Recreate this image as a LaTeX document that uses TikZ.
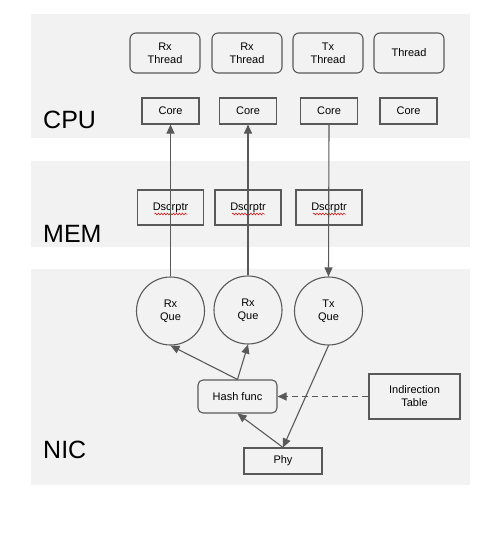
\documentclass[tikz,border=0pt]{standalone}
\usepackage{fontspec}
\setmainfont{Liberation Sans}
\usetikzlibrary{arrows.meta,decorations.pathmorphing}
\definecolor{band}{HTML}{F2F2F2}
\definecolor{ln}{HTML}{595959}
\tikzset{
  x=1pt,y=-1pt,
  bandbox/.style={fill=band,draw=none},
  biglabel/.style={font=\fontsize{25}{28}\selectfont,anchor=west,inner sep=0},
  threadbox/.style={draw=ln,line width=1.1pt,rounded corners=6pt,minimum width=70pt,minimum height=40pt,align=center,font=\fontsize{11}{13}\selectfont,inner sep=0},
  corebox/.style={draw=ln,line width=1.1pt,minimum width=57pt,minimum height=26pt,font=\fontsize{11}{13}\selectfont,inner sep=0},
  descbox/.style={draw=ln,line width=1.1pt,minimum width=66pt,minimum height=35pt,font=\fontsize{11}{13}\selectfont,inner sep=0},
  quebox/.style={draw=ln,line width=1.1pt,circle,minimum size=68pt,align=center,font=\fontsize{11}{13}\selectfont,inner sep=0},
  hashbox/.style={draw=ln,line width=1.1pt,rounded corners=5pt,minimum width=79pt,minimum height=33pt,font=\fontsize{11}{13}\selectfont,inner sep=0},
  tablebox/.style={draw=ln,line width=1.1pt,minimum width=91pt,minimum height=45pt,align=center,font=\fontsize{11}{13}\selectfont,inner sep=0},
  phybox/.style={draw=ln,line width=1.1pt,minimum width=78pt,minimum height=26pt,font=\fontsize{11}{13}\selectfont,inner sep=0},
  conn/.style={draw=ln,line width=1.1pt,-{Triangle[length=9pt,width=8pt]}},
  spell/.style={draw=red!80!black,line width=0.5pt,decorate,decoration={snake,amplitude=0.9pt,segment length=3pt}}
}
\begin{document}
\begin{tikzpicture}
\useasboundingbox (0,0) rectangle (501,535);
\fill[white] (0,0) rectangle (501,535);
% bands
\path[bandbox] (31,14) rectangle (470,138);
\path[bandbox] (31,161) rectangle (470,247);
\path[bandbox] (31,269) rectangle (470,485);
\node[biglabel] (cpu) at (43,120) {CPU};
\node[biglabel] (mem) at (43,234) {MEM};
\node[biglabel] (nic) at (43,450) {NIC};
% threads
\node[threadbox] (t1) at (165,53) {Rx\\Thread};
\node[threadbox] (t2) at (247,53) {Rx\\Thread};
\node[threadbox] (t3) at (328,53) {Tx\\Thread};
\node[threadbox] (t4) at (409,53) {Thread};
% cores
\node[corebox] (c1) at (170.5,111) {Core};
\node[corebox] (c2) at (248,111) {Core};
\node[corebox] (c3) at (329,111) {Core};
\node[corebox] (c4) at (408.5,111) {Core};
% descriptors
\node[descbox] (d1) at (170.5,207.5) {Dscrptr};
\node[descbox] (d2) at (248,207.5) {Dscrptr};
\node[descbox] (d3) at (329,207.5) {Dscrptr};
\foreach \n in {d1,d2,d3}{
  \draw[spell] ([xshift=-16pt,yshift=-6.5pt]\n.center) -- ([xshift=17pt,yshift=-6.5pt]\n.center);
}
% queues
\node[quebox] (q1) at (170.5,311) {Rx\\Que};
\node[quebox] (q2) at (248,310) {Rx\\Que};
\node[quebox] (q3) at (328.5,311) {Tx\\Que};
% nic parts
\node[hashbox] (hash) at (237.5,396.5) {Hash func};
\node[tablebox] (tab) at (414.5,396.5) {Indirection\\Table};
\node[phybox] (phy) at (283,461) {Phy};
% connectors
\draw[conn] (q1.north) -- (c1.south);
\draw[conn] (q2.north) -- (c2.south);
\draw[conn] (c3.south) -- (q3.north);
\draw[conn] (hash.north) -- (q1.south);
\draw[conn] (hash.north) -- (q2.south);
\draw[conn] (q3.south) -- (phy.north);
\draw[conn] (phy.north) -- (hash.south);
\draw[conn,dashed,dash pattern=on 6pt off 4pt] (tab.west) -- (hash.east);
\end{tikzpicture}
\end{document}
